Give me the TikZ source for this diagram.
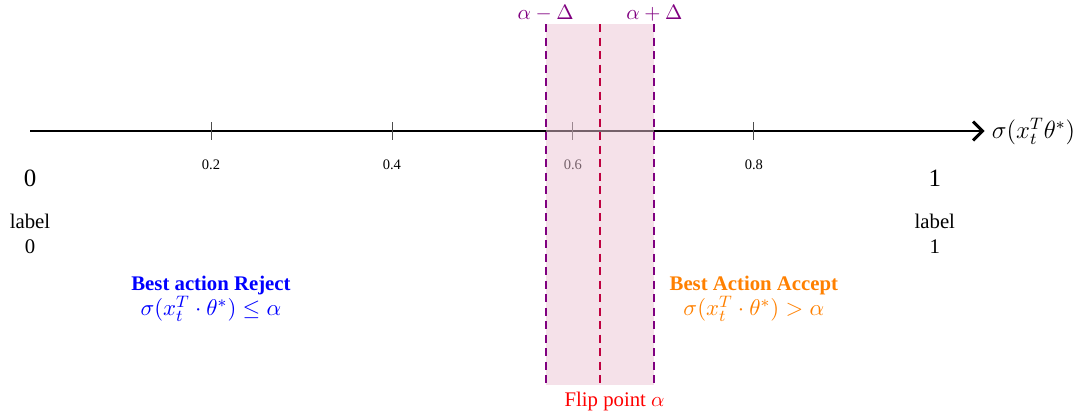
\documentclass[tikz,border=0pt]{standalone}
\usepackage{amsmath,amssymb}
\usepackage{fontspec}
\setmainfont{Liberation Serif}
\usetikzlibrary{arrows.meta,positioning,calc}
\definecolor{bandpink}{RGB}{235,195,212}
\newcommand{\elevenpt}{\fontsize{11pt}{13pt}\selectfont}

\begin{document}
\begin{tikzpicture}[x=15.31cm,y=1cm,
  axis/.style={line width=1.4pt, -{Straight Barb[length=1.6mm,width=3.2mm]}},
  tickmark/.style={draw=black!70, thin},
  bound/.style={violet, line width=1pt, dash pattern=on 4pt off 2.5pt},
  flip/.style={purple, line width=1pt, dash pattern=on 4pt off 2.5pt}]
\useasboundingbox (-0.03316,-4.839) rectangle (1.1671,2.217);
\coordinate (o) at (0,0);
\coordinate (e) at (1.055,0);
\draw[axis] (o) -- (e);
\node[right=0pt of e, font=\large] (xlab) {$\sigma(x_t^T\theta^*)$};
\foreach \v [count=\i] in {0.2,0.4,0.6,0.8} {
  \draw[tickmark] (\v,-0.15) -- (\v,0.15);
  \node[font=\scriptsize] (tk\i) at (\v,-0.575) {\v};
}
\node[font=\large] (zero) at (0,-0.795) {0};
\node[font=\large] (one) at (1,-0.795) {1};
\node[align=center] (lab0) at (0,-1.74) {label\\0};
\node[align=center] (lab1) at (1,-1.74) {label\\1};
\node[align=center, text=blue] (rej) at (0.2,-2.84)
  {\textbf{Best action Reject}\\{\elevenpt$\sigma(x_t^T\cdot\theta^*)\leq\alpha$}};
\node[align=center, text=orange] (acc) at (0.8,-2.84)
  {\textbf{Best Action Accept}\\{\elevenpt$\sigma(x_t^T\cdot\theta^*)>\alpha$}};
% band around alpha
\coordinate (lotop) at (0.57,1.81);
\coordinate (lobot) at (0.57,-4.30);
\coordinate (hitop) at (0.69,1.81);
\coordinate (hibot) at (0.69,-4.30);
\coordinate (ftop) at (0.63,1.81);
\coordinate (fbot) at (0.63,-4.30);
\fill[bandpink, fill opacity=0.5] (lobot) rectangle (hitop);
\draw[bound] (lotop) -- (lobot);
\draw[bound] (hitop) -- (hibot);
\draw[flip] (ftop) -- (fbot);
\node[above=-2pt of lotop, text=violet] (lo) {$\alpha-\Delta$};
\node[above=-2pt of hitop, text=violet] (hi) {$\alpha+\Delta$};
\node[below=0pt of fbot, xshift=7pt, text=red] (fp) {Flip point $\alpha$};
\end{tikzpicture}
\end{document}
